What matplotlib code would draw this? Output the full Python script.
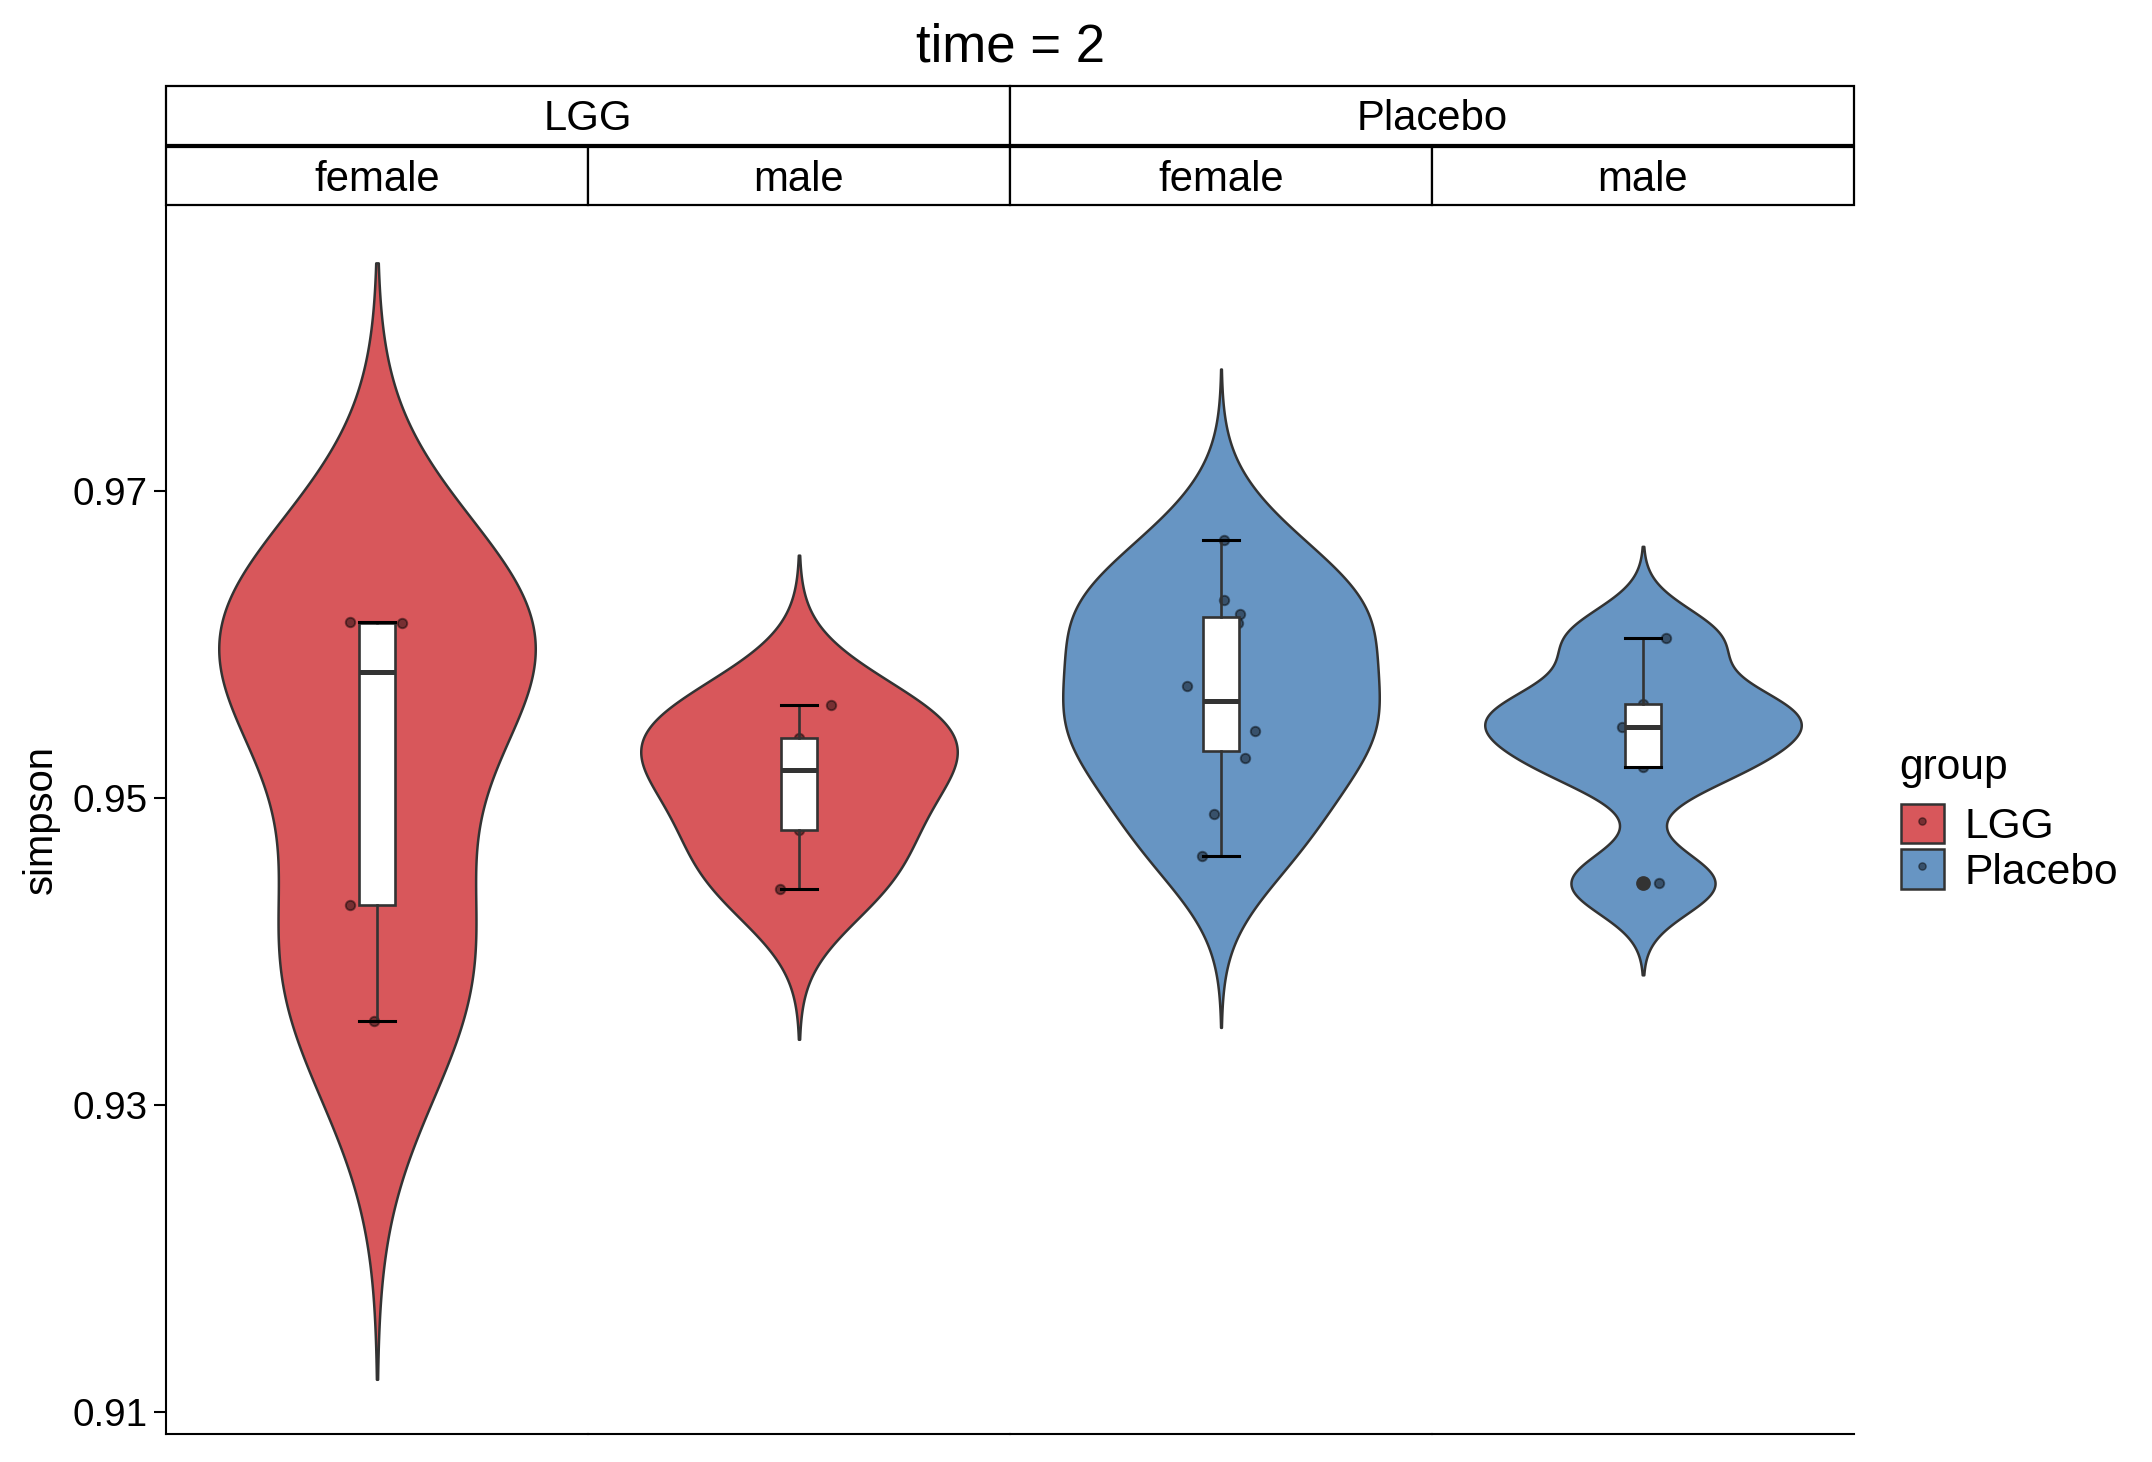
import numpy as np
import matplotlib
matplotlib.use("Agg")
import matplotlib.pyplot as plt
from matplotlib.patches import Rectangle, Patch
from matplotlib.lines import Line2D
from matplotlib.legend_handler import HandlerTuple

plt.rcParams['font.family'] = ['Liberation Sans', 'DejaVu Sans']

# ---------------- data ----------------
title = "time = 2"
legend_title = "group"
y_label = "simpson"
group_names = ["LGG", "Placebo"]
sex_names = ["female", "male"]
panel_groups = ["LGG", "LGG", "Placebo", "Placebo"]
panel_sexes = ["female", "male", "female", "male"]

lgg_female = [0.9355, 0.9430, 0.9582, 0.9614, 0.9615]
lgg_male = [0.94405, 0.94792, 0.95182, 0.95389, 0.95606]
placebo_female = [0.94620, 0.94894, 0.95261, 0.95436, 0.95534,
                  0.95730, 0.96138, 0.96197, 0.96288, 0.96681]
placebo_male = [0.94444, 0.95204, 0.95465, 0.95612, 0.96044]

# horizontal jitter of each point (x units)
lgg_female_jitter = [-0.009, -0.078, 0.0, 0.071, -0.078]
lgg_male_jitter = [-0.054, 0.0, 0.0, 0.0, 0.092]
placebo_female_jitter = [-0.053, -0.021, 0.068, 0.098, 0.0,
                         -0.097, 0.049, 0.054, 0.009, 0.009]
placebo_male_jitter = [0.045, 0.0, -0.06, 0.0, 0.066]

# kernel bandwidth multiplier per panel (like ggplot's `adjust`)
bandwidth_adjust = [1.0, 1.12, 1.0, 1.0]

y_ticks = [0.91, 0.93, 0.95, 0.97]
y_limits = (0.90857, 0.98857)

panel_values = [lgg_female, lgg_male, placebo_female, placebo_male]
panel_jitters = [lgg_female_jitter, lgg_male_jitter, placebo_female_jitter, placebo_male_jitter]

colors = {"LGG": "#D8575B", "Placebo": "#6795C3"}
edge = "#333333"


def nrd0(x):
    x = np.asarray(x, float)
    sd = np.std(x, ddof=1)
    q75, q25 = np.percentile(x, [75, 25])
    lo = min(sd, (q75 - q25) / 1.34)
    return 0.9 * lo * len(x) ** -0.2


def violin_profile(x, adjust=1.0, half_width=0.45):
    x = np.asarray(x, float)
    bw = nrd0(x) * adjust
    y = np.linspace(x.min() - 3 * bw, x.max() + 3 * bw, 512)
    d = np.exp(-0.5 * ((y[:, None] - x[None, :]) / bw) ** 2).sum(axis=1)
    return y, d / d.max() * half_width


# ---------------- layout ----------------
W, H = 2152, 1462
DPI = 200
fig = plt.figure(figsize=(W / DPI, H / DPI), dpi=DPI)
fig.patch.set_facecolor("white")


def fx(px):
    return px / W


def fy(py):
    return 1 - py / H


left, right = 166, 1854
top, bottom = 206, 1434
pw = (right - left) / 4

axes = []
for i in range(4):
    ax = fig.add_axes([fx(left + i * pw), fy(bottom), fx(pw), (bottom - top) / H])
    axes.append(ax)
    vals = panel_values[i]
    jit = panel_jitters[i]
    col = colors[panel_groups[i]]
    yv, w = violin_profile(vals, bandwidth_adjust[i])
    ax.fill_betweenx(yv, 1 - w, 1 + w, facecolor=col, edgecolor=edge, lw=0.9, zorder=1)
    ax.plot(1 + np.asarray(jit), vals, ls='', marker='o', ms=3.4, mfc='black', mec='black',
            mew=0.7, alpha=0.45, zorder=2)
    ax.boxplot([vals], positions=[1], widths=0.1, patch_artist=True, capwidths=[0.1],
               whis=1.5, zorder=3,
               boxprops=dict(facecolor='white', edgecolor=edge, lw=0.95),
               medianprops=dict(color=edge, lw=1.8, solid_capstyle='butt'),
               whiskerprops=dict(color=edge, lw=0.95),
               capprops=dict(color='black', lw=1.1),
               flierprops=dict(marker='o', markerfacecolor=edge, markeredgecolor=edge,
                               markersize=4.3))
    ax.set_xlim(0.4, 1.6)
    ax.set_ylim(*y_limits)
    ax.set_xticks([])
    for s in ['top', 'right']:
        ax.spines[s].set_visible(False)
    ax.spines['bottom'].set_linewidth(0.75)
    ax.spines['bottom'].set_color('black')
    if i == 0:
        ax.set_yticks(y_ticks)
        ax.set_yticklabels([f"{t:.2f}" for t in y_ticks])
        ax.tick_params(axis='y', length=4.3, width=0.75, pad=2.2, labelsize=13.9,
                       colors='black')
        ax.spines['left'].set_linewidth(0.75)
        ax.spines['left'].set_color('black')
    else:
        ax.set_yticks([])
        ax.spines['left'].set_visible(False)
    ax.patch.set_alpha(0)

# strips
strip_lw = 0.8
for i in range(4):
    x0 = left + i * pw
    r = Rectangle((fx(x0), fy(205)), fx(pw), (205 - 147) / H, transform=fig.transFigure,
                  facecolor='white', edgecolor='black', lw=strip_lw)
    fig.add_artist(r)
    fig.text(fx(x0 + pw / 2), fy(180), panel_sexes[i], ha='center', va='center',
             fontsize=15.1, color='black')
for j, g in enumerate(group_names):
    x0 = left + j * 2 * pw
    r = Rectangle((fx(x0), fy(144.5)), fx(2 * pw), (144.5 - 86) / H,
                  transform=fig.transFigure,
                  facecolor='white', edgecolor='black', lw=strip_lw)
    fig.add_artist(r)
    fig.text(fx(x0 + pw), fy(119), g, ha='center', va='center', fontsize=15.1, color='black')

# title and y label
fig.text(fx((left + right) / 2), fy(47), title, ha='center', va='center', fontsize=19,
         color='black')
fig.text(fx(41), fy(820), y_label, rotation=90, ha='center', va='center', fontsize=14.4,
         color='black')

# legend
handles = []
for g in group_names:
    handles.append((Patch(facecolor=colors[g], edgecolor=edge, lw=0.9),
                    Line2D([], [], ls='', marker='o', ms=2.6, mfc='black', mec='black',
                           mew=0.5, alpha=0.45)))
fig.text(fx(1899), fy(768), legend_title, ha='left', va='center', fontsize=15.3,
         color='black')
fig.legend(handles=handles, labels=group_names,
           handler_map={tuple: HandlerTuple(ndivide=1, pad=0)},
           loc='upper left', bbox_to_anchor=(fx(1901), fy(804)), frameon=False,
           fontsize=15.3, handlelength=1.0, handleheight=1.05, handletextpad=0.5,
           labelspacing=0.05, borderpad=0, borderaxespad=0)

fig.savefig("out.png", dpi=DPI, facecolor='white')
